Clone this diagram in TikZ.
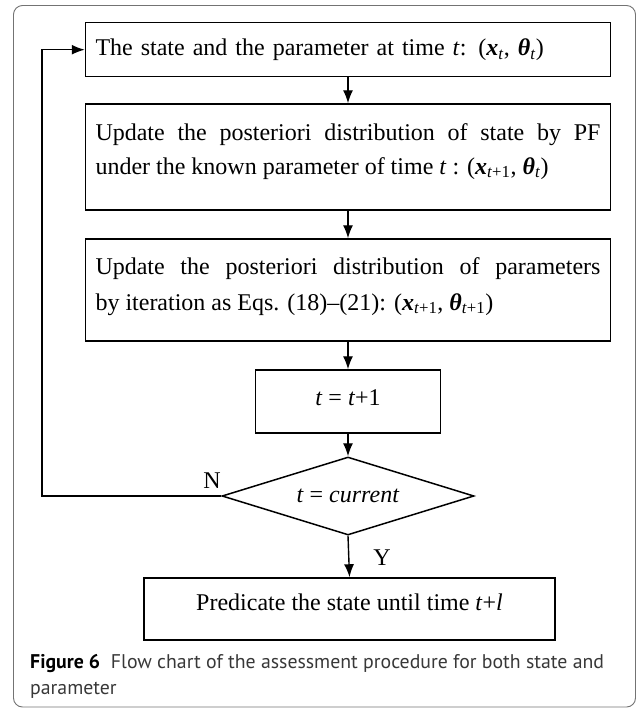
\documentclass[tikz,border=0pt]{standalone}
\usepackage{fontspec}
\setmainfont{Liberation Serif}
\newfontfamily\capfont{PT Sans}
\usetikzlibrary{arrows.meta,shapes.geometric}
\begin{document}
\begin{tikzpicture}[x=1pt,y=-1pt,
  box/.style={draw,line width=1.5pt,rectangle,inner sep=0pt,font=\fontsize{24}{34}\selectfont},
  arr/.style={line width=1.4pt,-{Latex[length=13pt,width=10pt]}},
  lbl/.style={font=\fontsize{24}{28}\selectfont,inner sep=0pt},
  capstyle/.style={anchor=base west,inner sep=0pt,font=\capfont\fontsize{19.8}{26}\selectfont,text=black!78}]
\useasboundingbox (0,0) rectangle (637,710);
\draw[black!55, line width=0.9pt, rounded corners=9pt] (13.5,5.5) rectangle (635.5,707);
\node[box,minimum width=525pt,minimum height=54pt,text width=505pt,align=left] (b1) at (348,49.7)
  {The state and the parameter at time \textit{t}: (\textbf{\textit{x}}\textsubscript{\textit{t}}, \textbf{\textit{θ}}\textsubscript{\textit{t}})};
\node[box,minimum width=525pt,minimum height=106pt,text width=505pt,align=justify,text height=17pt,text depth=51pt] (b2) at (348,157)
  {Update the posteriori distribution of state by PF\linebreak under the known parameter of time \textit{t} : (\textbf{\textit{x}}\textsubscript{\textit{t}+1}, \textbf{\textit{θ}}\textsubscript{\textit{t}})};
\node[box,minimum width=525pt,minimum height=102pt,text width=505pt,align=justify,font=\fontsize{24}{36}\selectfont,text height=17pt,text depth=49pt] (b3) at (348,290)
  {Update the posteriori distribution of parameters\linebreak by iteration as Eqs. (18)–(21): (\textbf{\textit{x}}\textsubscript{\textit{t}+1}, \textbf{\textit{θ}}\textsubscript{\textit{t}+1})};
\node[box,minimum width=185pt,minimum height=63pt,text height=16.5pt,text depth=9.5pt] (b4) at (348,401.5) {\textit{t} = \textit{t}+1};
\node[draw,diamond,aspect=3.23,line width=1.5pt,minimum width=252pt,minimum height=78pt,inner sep=0pt,font=\fontsize{24}{28}\selectfont] (d) at (348,496) {\textit{t} = \textit{current}};
\node[box,minimum width=411pt,minimum height=62pt,text height=16.5pt,text depth=14.5pt] (b5) at (349.5,609) {Predicate the state until time \textit{t}+\textit{l}};
\coordinate (lp) at (42,496);
\draw[arr] (b1.south) -- (b2.north);
\draw[arr] (b2.south) -- (b3.north);
\draw[arr] (b3.south) -- (b4.north);
\draw[arr] (b4.south) -- (d.north);
\draw[arr] (d.south) -- (b5.north);
\draw[arr] (d.west) -- (lp) |- (b1.west);
\node[lbl] (n) at (212,481) {N};
\node[lbl] (y) at (382,558) {Y};
\node[capstyle] (c1) at (30,668) {{\bfseries\color{black}Figure 6}\hspace{0.55em}Flow chart of the assessment procedure for both state and};
\node[capstyle] (c2) at (30,694) {parameter};
\end{tikzpicture}
\end{document}
